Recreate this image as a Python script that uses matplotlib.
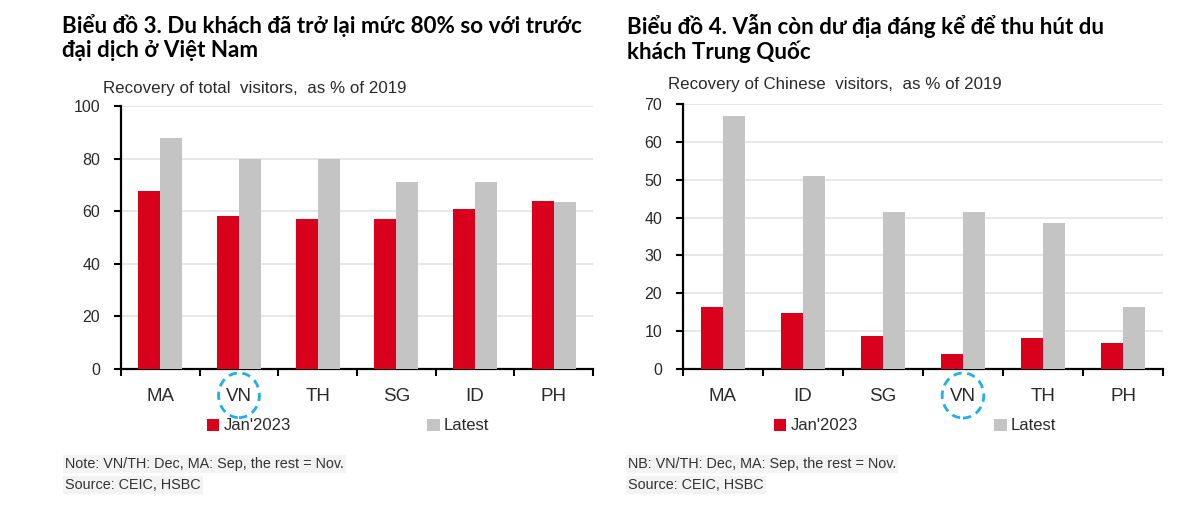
import matplotlib
matplotlib.use('Agg')
import matplotlib.pyplot as plt
from matplotlib.patches import Ellipse, Patch
from matplotlib.transforms import blended_transform_factory

W, H = 1200, 519

# Chart 3: total visitors
cats_total = ['MA', 'VN', 'TH', 'SG', 'ID', 'PH']
jan_total = [67.5, 58, 57, 57, 61, 64]
latest_total = [88, 80, 80, 71, 71, 63.5]

# Chart 4: Chinese visitors
cats_cn = ['MA', 'ID', 'SG', 'VN', 'TH', 'PH']
jan_cn = [16.5, 14.7, 8.7, 4.0, 8.3, 7.0]
latest_cn = [66.8, 50.9, 41.5, 41.5, 38.6, 16.4]

RED = '#D9001B'
GREY = '#C4C4C4'
BLUE = '#1DB1E8'
TEXT_FONT = ['Liberation Sans', 'DejaVu Sans']
TITLE_FONT = ['Lato', 'DejaVu Sans']

fig = plt.figure(figsize=(W / 100, H / 100), dpi=100)
fig.patch.set_facecolor('white')


def px_axes(x0, y0, x1, y1):
    return fig.add_axes([x0 / W, 1 - y1 / H, (x1 - x0) / W, (y1 - y0) / H])


def draw_panel(ax, cats, jan, latest, ymax, step, circle_idx):
    x = list(range(len(cats)))
    w = 0.28
    ax.bar([i - w / 2 for i in x], jan, width=w, color=RED, zorder=3)
    ax.bar([i + w / 2 for i in x], latest, width=w, color=GREY, zorder=3)
    ax.set_xlim(-0.5, len(cats) - 0.5)
    ax.set_ylim(0, ymax)
    ax.set_yticks(range(0, ymax + 1, step))
    ax.yaxis.grid(True, color='#E3E3E3', linewidth=1.2, zorder=0)
    ax.set_axisbelow(True)
    for s in ['top', 'right']:
        ax.spines[s].set_visible(False)
    for s in ['left', 'bottom']:
        ax.spines[s].set_linewidth(1.6)
        ax.spines[s].set_color('black')
    ax.set_xticks(x)
    ax.set_xticklabels(cats)
    ax.set_xticks([i - 0.5 for i in range(len(cats) + 1)], minor=True)
    ax.tick_params(axis='x', which='major', length=0, pad=14, labelsize=13.5)
    ax.tick_params(axis='x', which='minor', length=5, width=1.5, direction='out')
    ax.tick_params(axis='y', length=5, width=1.5, direction='out', labelsize=11.5, pad=10)
    for lab in ax.get_xticklabels() + ax.get_yticklabels():
        lab.set_family(TEXT_FONT)
        lab.set_color('#2a2a2a')
    trans = blended_transform_factory(ax.transData, ax.transAxes)
    ax.add_patch(Ellipse((circle_idx, -0.1), 0.52, 0.17, transform=trans,
                         fill=False, edgecolor=BLUE, linewidth=2,
                         linestyle=(0, (3, 2)), clip_on=False, zorder=5))


ax1 = px_axes(121, 106, 593, 369)
draw_panel(ax1, cats_total, jan_total, latest_total, 100, 20, 1)
ax2 = px_axes(683, 104, 1163, 369)
draw_panel(ax2, cats_cn, jan_cn, latest_cn, 70, 10, 3)

# titles
fig.text(62 / W, 1 - 14 / H, 'Biểu đồ 3. Du khách đã trở lại mức 80% so với trước\nđại dịch ở Việt Nam',
         ha='left', va='top', fontsize=16.1, fontweight='bold', family=TITLE_FONT, linespacing=1.16)
fig.text(627 / W, 1 - 14 / H, 'Biểu đồ 4. Vẫn còn dư địa đáng kể để thu hút du\nkhách Trung Quốc',
         ha='left', va='top', fontsize=16.1, fontweight='bold', family=TITLE_FONT, linespacing=1.16)

# subtitles
fig.text(103 / W, 1 - 88 / H, 'Recovery of total  visitors,  as % of 2019', ha='left', va='center',
         fontsize=12.2, family=TEXT_FONT, color='#2a2a2a')
fig.text(668 / W, 1 - 85 / H, 'Recovery of Chinese  visitors,  as % of 2019', ha='left', va='center',
         fontsize=12.2, family=TEXT_FONT, color='#2a2a2a')

# legends
handles = [Patch(facecolor=RED, edgecolor='none'), Patch(facecolor=GREY, edgecolor='none')]
labels = ["Jan'2023", 'Latest']
for cx in (348, 915):
    leg = fig.legend(handles, labels, loc='center', bbox_to_anchor=(cx / W, 1 - 426 / H),
                     ncol=2, frameon=False, handlelength=0.75, handleheight=0.75,
                     handletextpad=0.25, columnspacing=8.2,
                     prop={'family': TEXT_FONT, 'size': 12})
    for t in leg.get_texts():
        t.set_color('#2a2a2a')

# notes
note_box = dict(facecolor='#F3F3F3', edgecolor='none', pad=1.5)
notes = [(65, 'Note: VN/TH: Dec, MA: Sep, the rest = Nov.'), (628, 'NB: VN/TH: Dec, MA: Sep, the rest = Nov.')]
for nx, txt in notes:
    fig.text(nx / W, 1 - 464 / H, txt, ha='left', va='center',
             fontsize=10.4, family=TEXT_FONT, color='#333333', bbox=note_box)
    fig.text(nx / W, 1 - 485 / H, 'Source: CEIC, HSBC', ha='left', va='center',
             fontsize=10.4, family=TEXT_FONT, color='#333333', bbox=note_box)

fig.savefig('out.png', dpi=100)
